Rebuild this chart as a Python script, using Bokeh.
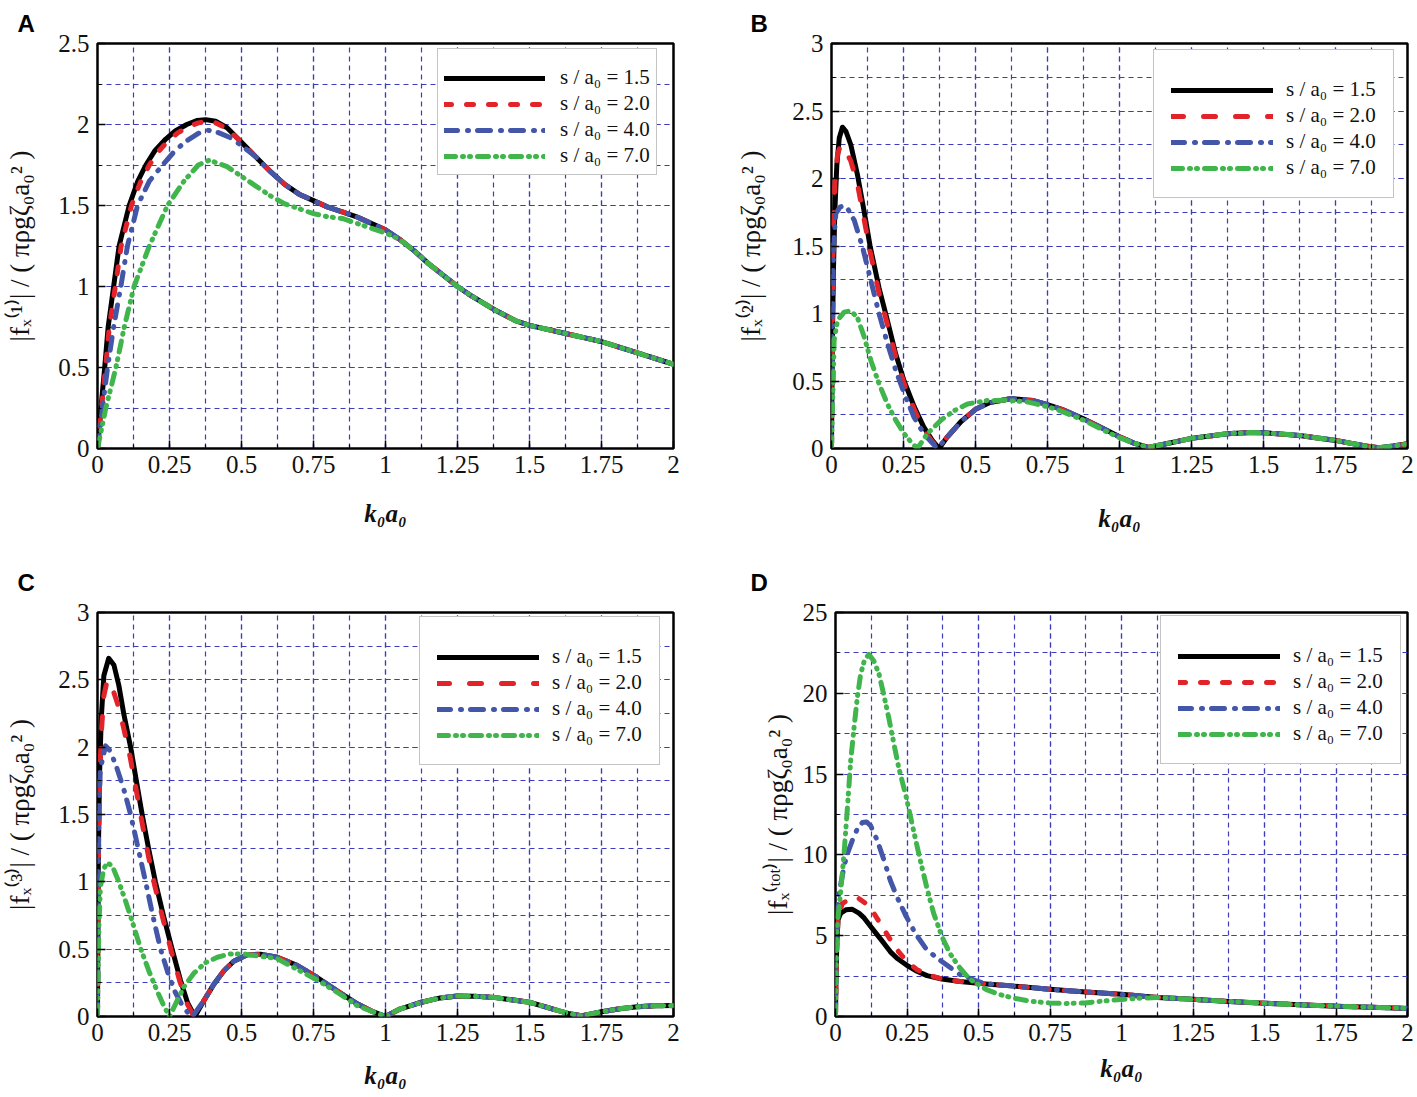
from bokeh.plotting import figure
from bokeh.models import Range1d, SingleIntervalTicker, CustomJSTickFormatter
from bokeh.layouts import column, row
from bokeh.embed import file_html
from bokeh.resources import INLINE

# ---------------- data ----------------
SERIES_LABELS = ["s / a\u2080 = 1.5", "s / a\u2080 = 2.0", "s / a\u2080 = 4.0", "s / a\u2080 = 7.0"]

# Panel A  |fx(1)|
A_black_x = [0, 0.012, 0.025, 0.037, 0.056, 0.075, 0.11, 0.14, 0.168, 0.2, 0.237, 0.27, 0.31, 0.345, 0.376, 0.41, 0.45, 0.5]
A_black_y = [0, 0.25, 0.5, 0.75, 1.0, 1.25, 1.5, 1.65, 1.75, 1.84, 1.91, 1.96, 2.0, 2.025, 2.03, 2.02, 1.98, 1.89]
A_red_x = [0, 0.014, 0.028, 0.041, 0.062, 0.082, 0.118, 0.148, 0.18, 0.21, 0.245, 0.28, 0.32, 0.35, 0.38, 0.41, 0.45, 0.5]
A_red_y = [0, 0.25, 0.5, 0.75, 1.0, 1.25, 1.5, 1.64, 1.75, 1.83, 1.9, 1.95, 1.99, 2.01, 2.02, 2.01, 1.975, 1.89]
A_blue_x = [0, 0.017, 0.035, 0.056, 0.081, 0.104, 0.139, 0.18, 0.226, 0.27, 0.31, 0.35, 0.382, 0.42, 0.46, 0.5]
A_blue_y = [0, 0.25, 0.5, 0.75, 1.0, 1.25, 1.5, 1.65, 1.75, 1.84, 1.9, 1.945, 1.965, 1.95, 1.92, 1.87]
A_mid_x = [0.55, 0.6, 0.65, 0.7, 0.75, 0.8, 0.85, 0.9, 0.95, 1.0]
A_mid_y = [1.80, 1.71, 1.63, 1.57, 1.53, 1.49, 1.46, 1.43, 1.39, 1.35]
A_green_x = [0, 0.029, 0.064, 0.093, 0.127, 0.18, 0.243, 0.3, 0.35, 0.388, 0.45, 0.5, 0.55, 0.6, 0.65, 0.7, 0.75, 0.8, 0.85, 0.9, 0.95, 1.0]
A_green_y = [0, 0.25, 0.5, 0.75, 1.0, 1.25, 1.5, 1.65, 1.75, 1.78, 1.74, 1.68, 1.62, 1.56, 1.51, 1.48, 1.45, 1.43, 1.42, 1.39, 1.36, 1.33]
A_tail_x = [1.05, 1.1, 1.15, 1.2, 1.25, 1.3, 1.375, 1.45, 1.5, 1.625, 1.75, 1.875, 2.0]
A_tail_y = [1.29, 1.22, 1.14, 1.07, 1.0, 0.94, 0.86, 0.79, 0.76, 0.71, 0.66, 0.59, 0.52]

# Panel B  |fx(2)|
B_black_x = [0, 0.003, 0.007, 0.0116, 0.0185, 0.027, 0.038, 0.05, 0.067, 0.09, 0.113, 0.134, 0.165, 0.194, 0.223, 0.252, 0.287, 0.32, 0.35, 0.374]
B_black_y = [0, 0.8, 1.34, 1.76, 2.1, 2.3, 2.38, 2.35, 2.25, 2.03, 1.76, 1.5, 1.19, 0.95, 0.70, 0.5, 0.31, 0.16, 0.06, 0]
B_red_x = [0, 0.003, 0.006, 0.0116, 0.021, 0.032, 0.05, 0.067, 0.09, 0.113, 0.134, 0.165, 0.194, 0.223, 0.252, 0.287, 0.32, 0.35, 0.372]
B_red_y = [0, 0.9, 1.59, 1.96, 2.18, 2.25, 2.2, 2.13, 1.96, 1.7, 1.46, 1.15, 0.92, 0.68, 0.48, 0.29, 0.14, 0.05, 0]
B_blue_x = [0, 0.003, 0.007, 0.015, 0.03, 0.05, 0.079, 0.108, 0.137, 0.165, 0.194, 0.223, 0.252, 0.287, 0.32, 0.35, 0.368]
B_blue_y = [0, 0.8, 1.49, 1.74, 1.79, 1.8, 1.69, 1.49, 1.24, 1.0, 0.78, 0.58, 0.41, 0.23, 0.11, 0.04, 0]
B_lobe_x = [0.4, 0.45, 0.5, 0.55, 0.625, 0.7, 0.75, 0.8, 0.875, 0.95, 1.0]
B_lobe_y = [0.08, 0.2, 0.29, 0.34, 0.37, 0.355, 0.325, 0.29, 0.22, 0.14, 0.087]
B_green_x = [0, 0.003, 0.006, 0.009, 0.021, 0.044, 0.067, 0.09, 0.113, 0.137, 0.165, 0.194, 0.223, 0.252, 0.275, 0.298,
             0.333, 0.38, 0.426, 0.472, 0.54, 0.61, 0.68, 0.75, 0.8, 0.875, 0.95, 1.0]
B_green_y = [0, 0.3, 0.48, 0.8, 0.95, 1.01, 1.02, 0.97, 0.83, 0.65, 0.48, 0.33, 0.21, 0.11, 0.05, 0.0,
             0.11, 0.21, 0.28, 0.33, 0.355, 0.357, 0.345, 0.31, 0.275, 0.21, 0.13, 0.08]
B_tail_x = [1.05, 1.1, 1.15, 1.25, 1.375, 1.45, 1.5, 1.625, 1.75, 1.85, 1.9, 1.95, 2.0]
B_tail_y = [0.04, 0.008, 0.03, 0.075, 0.11, 0.118, 0.117, 0.097, 0.06, 0.02, 0.005, 0.018, 0.035]

# Panel C  |fx(3)|
C_black_x = [0, 0.003, 0.007, 0.013, 0.022, 0.039, 0.057, 0.074, 0.091, 0.115, 0.135, 0.155, 0.178, 0.201, 0.23, 0.259, 0.288, 0.313, 0.338]
C_black_y = [0, 1.2, 1.79, 2.21, 2.53, 2.66, 2.61, 2.46, 2.25, 2.0, 1.75, 1.5, 1.24, 1.0, 0.74, 0.5, 0.27, 0.1, 0]
C_red_x = [0, 0.003, 0.007, 0.013, 0.022, 0.034, 0.05, 0.07, 0.09, 0.113, 0.133, 0.153, 0.176, 0.199, 0.228, 0.257, 0.286, 0.31, 0.335]
C_red_y = [0, 1.1, 1.7, 2.1, 2.38, 2.5, 2.45, 2.32, 2.15, 1.93, 1.7, 1.46, 1.2, 0.97, 0.72, 0.48, 0.26, 0.1, 0]
C_blue_x = [0, 0.003, 0.005, 0.01, 0.028, 0.045, 0.068, 0.091, 0.115, 0.14, 0.167, 0.193, 0.219, 0.245, 0.27, 0.295, 0.317, 0.33]
C_blue_y = [0, 1.1, 1.55, 1.84, 2.01, 1.97, 1.84, 1.69, 1.5, 1.26, 1.0, 0.74, 0.5, 0.32, 0.18, 0.08, 0.02, 0]
C_lobe_x = [0.37, 0.404, 0.439, 0.473, 0.52, 0.566, 0.624, 0.693, 0.763, 0.832, 0.902, 0.948, 1.0]
C_lobe_y = [0.12, 0.24, 0.34, 0.41, 0.458, 0.463, 0.44, 0.38, 0.29, 0.19, 0.094, 0.044, 0.0]
C_green_x = [0, 0.002, 0.005, 0.01, 0.022, 0.034, 0.051, 0.074, 0.097, 0.12, 0.149, 0.178, 0.207, 0.23, 0.25,
             0.277, 0.3, 0.334, 0.375, 0.416, 0.462, 0.508, 0.554, 0.624, 0.693, 0.763, 0.832, 0.902, 1.0]
C_green_y = [0, 0.31, 0.68, 0.96, 1.1, 1.14, 1.12, 1.0, 0.86, 0.71, 0.51, 0.34, 0.19, 0.08, 0,
             0.12, 0.22, 0.32, 0.40, 0.44, 0.465, 0.465, 0.45, 0.43, 0.35, 0.27, 0.18, 0.08, 0]
C_tail_x = [1.05, 1.125, 1.19, 1.25, 1.31, 1.375, 1.45, 1.5, 1.55, 1.6, 1.64, 1.68, 1.75, 1.82, 1.875, 1.94, 2.0]
C_tail_y = [0.055, 0.106, 0.138, 0.152, 0.15, 0.142, 0.12, 0.106, 0.075, 0.043, 0.02, 0.005, 0.035, 0.06, 0.073, 0.079, 0.081]

# Panel D  |fx(tot)|
D_black_x = [0, 0.002, 0.005, 0.009, 0.0185, 0.036, 0.059, 0.082, 0.1, 0.123, 0.146, 0.169, 0.192, 0.215, 0.247, 0.285, 0.32, 0.372, 0.435, 0.5]
D_black_y = [0, 2.7, 4.7, 6.0, 6.4, 6.6, 6.63, 6.4, 6.1, 5.57, 5.05, 4.54, 4.0, 3.6, 3.2, 2.8, 2.53, 2.32, 2.17, 2.05]
D_red_x = [0, 0.003, 0.009, 0.024, 0.053, 0.082, 0.105, 0.134, 0.163, 0.192, 0.221, 0.25, 0.285, 0.32, 0.372, 0.435, 0.5]
D_red_y = [0, 3.7, 6.2, 7.0, 7.3, 7.3, 7.0, 6.4, 5.57, 4.75, 4.0, 3.4, 2.9, 2.6, 2.32, 2.17, 2.05]
D_blue_x = [0, 0.002, 0.005, 0.01, 0.0185, 0.03, 0.042, 0.059, 0.076, 0.094, 0.109, 0.123, 0.146, 0.169, 0.192, 0.215, 0.247, 0.279, 0.32, 0.372, 0.435, 0.5]
D_blue_y = [0, 3.5, 5.8, 7.4, 8.2, 9.3, 10.1, 10.9, 11.6, 12.0, 12.04, 11.8, 10.9, 9.7, 8.4, 7.4, 6.2, 5.15, 4.1, 3.4, 2.6, 2.15]
D_mid_x = [0.55, 0.625, 0.75, 0.875, 1.0]
D_mid_y = [1.98, 1.88, 1.68, 1.52, 1.37]
D_green_x = [0, 0.002, 0.0046, 0.007, 0.0185, 0.03, 0.042, 0.053, 0.065, 0.076, 0.088, 0.102, 0.117, 0.134, 0.152, 0.169, 0.186,
             0.204, 0.221, 0.247, 0.273, 0.296, 0.319, 0.343, 0.372, 0.4, 0.435, 0.47, 0.497, 0.528, 0.574, 0.62, 0.678, 0.747,
             0.806, 0.872, 0.933, 0.997, 1.06]
D_green_y = [0, 2.7, 4.7, 5.8, 7.8, 10.1, 13.0, 15.8, 17.9, 19.7, 21.2, 22.1, 22.4, 22.0, 21.2, 19.9, 18.5,
             16.9, 15.4, 13.6, 11.5, 9.7, 8.0, 6.4, 4.95, 3.9, 3.0, 2.3, 2.0, 1.66, 1.36, 1.15, 0.95, 0.84,
             0.8, 0.84, 0.95, 1.05, 1.13]
D_tail_x = [1.125, 1.25, 1.375, 1.5, 1.625, 1.75, 1.875, 2.0]
D_tail_y = [1.18, 1.06, 0.93, 0.82, 0.72, 0.64, 0.57, 0.5]

# ---------------- styles ----------------
COLORS = ["#000000", "#e2232a", "#4456a8", "#3fb54b"]
GRID = "#3c3cbc"
SERIF = "Liberation Serif"
LW = 5
BLUE_DASH = "13 10 1 9"
GREEN_DASH = "11 7 1 6 1 7"

FMT = CustomJSTickFormatter(code="return (Math.round(tick*1000)/1000).toString();")


def make_panel(letter, letter_offset, letter_standoff, ylabel, ymax, ymajor, curves, width, height, borders,
               legend_loc, legend_pad, glyph_w, label_so, red_dash, xlab_so, ylab_so):
    bl, br, bt, bb = borders
    p = figure(width=width, height=height, x_range=Range1d(0, 2), y_range=Range1d(0, ymax),
               output_backend="svg", toolbar_location=None, tools="",
               min_border_left=bl, min_border_right=br, min_border_top=bt, min_border_bottom=bb)
    p.background_fill_color = "white"
    p.border_fill_color = "white"
    p.outline_line_color = "black"
    p.outline_line_width = 2.5
    p.outline_line_alpha = 1.0

    # panel letter as title
    p.title.text = letter
    p.title.align = "left"
    p.title.offset = letter_offset
    p.title.standoff = letter_standoff
    p.title.text_font = "Liberation Sans"
    p.title.text_font_size = "24px"
    p.title.text_font_style = "bold"
    p.title.text_line_height = 0.6
    p.title.text_color = "black"

    p.xaxis.ticker = SingleIntervalTicker(interval=0.25, num_minor_ticks=2)
    p.yaxis.ticker = SingleIntervalTicker(interval=ymajor, num_minor_ticks=2)
    for ax in (p.xaxis[0], p.yaxis[0]):
        ax.formatter = FMT
        ax.axis_line_color = None
        ax.major_tick_in = 8
        ax.major_tick_out = 0
        ax.minor_tick_in = 4
        ax.minor_tick_out = 0
        ax.major_tick_line_color = "black"
        ax.major_tick_line_width = 1.5
        ax.minor_tick_line_color = "black"
        ax.minor_tick_line_width = 1.2
        ax.major_label_text_font = SERIF
        ax.major_label_text_font_size = "25px"
        ax.major_label_text_color = "#111111"
        ax.axis_label_text_font = SERIF
        ax.axis_label_text_color = "#111111"
    p.xaxis.major_label_standoff = 7
    p.yaxis.major_label_standoff = 8
    p.xaxis.axis_label = "k\u2080a\u2080"
    p.xaxis.axis_label_text_font_style = "bold italic"
    p.xaxis.axis_label_text_font_size = "25px"
    p.xaxis.axis_label_standoff = xlab_so
    p.yaxis.axis_label = ylabel
    p.yaxis.axis_label_text_font_style = "normal"
    p.yaxis.axis_label_text_font_size = "27px"
    p.yaxis.axis_label_standoff = ylab_so

    for g in (p.xgrid[0], p.ygrid[0]):
        g.grid_line_color = GRID
        g.grid_line_dash = "5 4"
        g.grid_line_width = 1.2
        g.minor_grid_line_color = GRID
        g.minor_grid_line_dash = "5 4"
        g.minor_grid_line_width = 1.2

    dashes = ["solid", red_dash, BLUE_DASH, GREEN_DASH]
    for (xs, ys), col, dash, lab in zip(curves, COLORS, dashes, SERIES_LABELS):
        p.line(xs, ys, line_color=col, line_width=LW, line_dash=dash, line_cap="round",
               line_join="round", legend_label=lab)

    lg = p.legend[0]
    lg.location = legend_loc
    lg.title = " "
    lg.title_text_font_size = "9px"
    lg.title_standoff = 0
    lg.padding = legend_pad
    lg.spacing = 1
    lg.margin = 0
    lg.label_height = 22
    lg.glyph_height = 22
    lg.glyph_width = glyph_w
    lg.label_standoff = label_so
    lg.label_text_font = SERIF
    lg.label_text_font_size = "21px"
    lg.label_text_color = "#111111"
    lg.border_line_color = "#8a8a8a"
    lg.border_line_width = 1.2
    lg.background_fill_color = "white"
    lg.background_fill_alpha = 1.0
    return p


curvesA = [
    (A_black_x + A_mid_x + A_tail_x, A_black_y + A_mid_y + A_tail_y),
    (A_red_x + A_mid_x + A_tail_x, A_red_y + A_mid_y + A_tail_y),
    (A_blue_x + A_mid_x + A_tail_x, A_blue_y + A_mid_y + A_tail_y),
    (A_green_x + A_tail_x, A_green_y + A_tail_y),
]
curvesB = [
    (B_black_x + B_lobe_x + B_tail_x, B_black_y + B_lobe_y + B_tail_y),
    (B_red_x + B_lobe_x + B_tail_x, B_red_y + B_lobe_y + B_tail_y),
    (B_blue_x + B_lobe_x + B_tail_x, B_blue_y + B_lobe_y + B_tail_y),
    (B_green_x + B_tail_x, B_green_y + B_tail_y),
]
curvesC = [
    (C_black_x + C_lobe_x + C_tail_x, C_black_y + C_lobe_y + C_tail_y),
    (C_red_x + C_lobe_x + C_tail_x, C_red_y + C_lobe_y + C_tail_y),
    (C_blue_x + C_lobe_x + C_tail_x, C_blue_y + C_lobe_y + C_tail_y),
    (C_green_x + C_tail_x, C_green_y + C_tail_y),
]
curvesD = [
    (D_black_x + D_mid_x + D_tail_x, D_black_y + D_mid_y + D_tail_y),
    (D_red_x + D_mid_x + D_tail_x, D_red_y + D_mid_y + D_tail_y),
    (D_blue_x + D_mid_x + D_tail_x, D_blue_y + D_mid_y + D_tail_y),
    (D_green_x + D_tail_x, D_green_y + D_tail_y),
]

YL = "|f\u2093{}| / ( \u03c0\u03c1g\u03b6\u2080a\u2080\u00b2 )"

pA = make_panel("A", -80, 14, YL.format("\u207d\u00b9\u207e"), 2.5, 0.5, curvesA, 720, 548, (97, 47, 42, 100),
                (340, 273), 6, 101, 15, "7 15", 24, 20)
pB = make_panel("B", -81, 14, YL.format("\u207d\u00b2\u207e"), 3, 0.5, curvesB, 695, 548, (111, 8, 42, 100),
                (322, 250), 17, 102, 13, "12 20", 29, 23)
pC = make_panel("C", -80, 33, YL.format("\u207d\u00b3\u207e"), 3, 0.5, curvesC, 720, 547, (97, 47, 63, 79),
                (322, 251), 17, 102, 13, "12 20", 18, 20)
pD = make_panel("D", -85, 33, YL.format("\u207d\u1d57\u1d52\u1d57\u207e"), 25, 5, curvesD, 695, 547, (115, 8, 64, 78),
                (325, 252), 17, 102, 13, "7 15", 11, 7)

layout = column(row(pA, pB), row(pC, pD))
open("out.html", "w").write(file_html(layout, INLINE, title="fx"))
